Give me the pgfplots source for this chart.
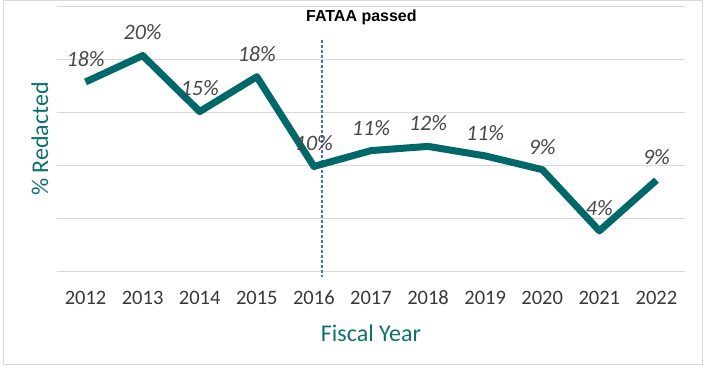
\documentclass[border=0pt]{standalone}
\usepackage{fontspec}
\setmainfont{Carlito}
\newfontfamily\lsans{Liberation Sans}
\usepackage{pgfplots}
\pgfplotsset{compat=1.18}
\definecolor{teal1}{RGB}{0,104,104}
\definecolor{tealtxt}{RGB}{16,112,112}
\definecolor{ticktxt}{RGB}{56,56,56}
\definecolor{lbltxt}{RGB}{72,72,72}
\definecolor{dashblue}{RGB}{68,114,196}
\definecolor{gridgray}{RGB}{217,217,217}
\begin{document}
\begin{tikzpicture}
\path[use as bounding box] (0,0) rectangle (706bp,370bp);
\draw[gridgray, line width=1bp] (3bp,5bp) rectangle (702bp,369.5bp);
\begin{axis}[
  at={(57bp,99bp)}, anchor=south west,
  scale only axis, width=628bp, height=264bp,
  xmin=2011.5, xmax=2022.5, ymin=0, ymax=25,
  xtick={2012,...,2022},
  xticklabels={2012,2013,2014,2015,2016,2017,2018,2019,2020,2021,2022},
  ytick={0,5,...,25}, yticklabels={},
  ymajorgrids, grid style={gridgray, line width=1bp},
  axis line style={draw=none}, tick style={draw=none},
  xticklabel style={anchor=center, yshift=-27bp, font=\fontsize{20.5bp}{24bp}\selectfont, text=ticktxt},
  xlabel={Fiscal Year},
  xlabel style={at={(axis description cs:0.5,0)}, anchor=center, yshift=-62bp, font=\fontsize{24bp}{28bp}\selectfont, text=tealtxt},
  ylabel={\% Redacted},
  ylabel style={at={(axis description cs:0,0.5)}, anchor=center, yshift=17bp, font=\fontsize{24bp}{28bp}\selectfont, text=tealtxt},
  clip=false,
]
\draw[dashblue, line width=1.4bp, dash pattern=on 3bp off 2bp] (axis cs:2016.14,21.9) -- (axis cs:2016.14,-0.6);
\node[anchor=west, inner sep=0pt, text=black] at (axis cs:2015.86,24) {\lsans\bfseries\fontsize{16bp}{20bp}\selectfont FATAA passed};
\addplot[teal1, line width=7bp, line join=round, mark=none,
  point meta=explicit symbolic,
  nodes near coords={\textit{\pgfplotspointmeta\%}},
  every node near coord/.append style={anchor=center, yshift=23bp, text=lbltxt, font=\fontsize{22bp}{26bp}\selectfont}]
  table[meta=lab] {
x y lab
2012 17.9 18
2013 20.4 20
2014 15.1 15
2015 18.4 18
2016 9.9 10
2017 11.4 11
2018 11.8 12
2019 10.9 11
2020 9.6 9
2021 3.8 4
2022 8.6 9
};
\end{axis}
\end{tikzpicture}
\end{document}
